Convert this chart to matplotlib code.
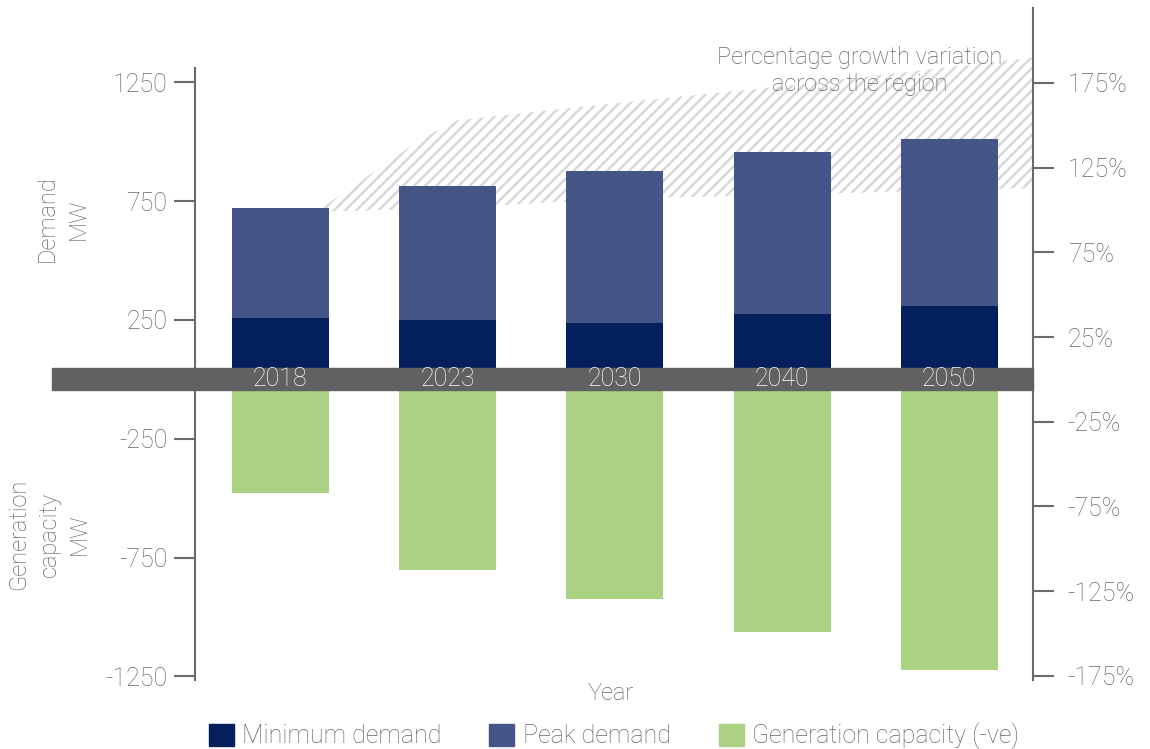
import numpy as np
import matplotlib
matplotlib.use("Agg")
import matplotlib.pyplot as plt
from matplotlib.patches import Patch

plt.rcParams['font.family'] = ['Roboto', 'DejaVu Sans']
plt.rcParams['font.weight'] = 'light'
plt.rcParams['hatch.linewidth'] = 1.8

# --- datos ---
years = ['2018', '2023', '2030', '2040', '2050']
min_demand = [258, 250, 237, 275, 309]
peak_demand = [720, 813, 876, 956, 1010]
gen_capacity = [-477, -800, -926, -1061, -1221]

# banda de variacion de crecimiento (%), en posiciones de categoria
band_x = [0.23, 0.86, 1.06, 2.0, 3.0, 4.5]
band_upper = [100, 143, 153, 163, 173, 190]
band_lower = [99, 100.5, 101.5, 106.5, 109, 113]

left_ticks = [1250, 750, 250, -250, -750, -1250]
right_ticks = [175, 125, 75, 25, -25, -75, -125, -175]

TXT = '#666666'
SPINE = '#6b6b6b'
C_MIN = '#03205c'
C_PEAK = '#465587'
C_GEN = '#aad282'
BAND = '#616163'
FS = 17
FT = 18

fig = plt.figure(figsize=(11.5, 7.49), dpi=100)
ax = fig.add_axes([195/1150, 69/749, 838/1150, 672/749])
ax2 = ax.twinx()

x = np.arange(len(years))
w = 0.58

ax.bar(x, peak_demand, width=w, color=C_PEAK, zorder=2)
ax.bar(x, min_demand, width=w, color=C_MIN, zorder=3)
ax.bar(x, gen_capacity, width=w, color=C_GEN, zorder=2)

ylo, yhi = -1265, 1563
mw_per_pct = 7.13
ax.set_ylim(ylo, yhi)
ax2.set_ylim(ylo / mw_per_pct, yhi / mw_per_pct)
ax.set_xlim(-0.51, 4.5)

ax2.fill_between(band_x, band_lower, band_upper, facecolor='none',
                 edgecolor='#d8d8d8', hatch='///', linewidth=0, zorder=1)

# ejes por encima de la banda
ax.set_zorder(ax2.get_zorder() + 1)
ax.patch.set_visible(False)

# franja gris en cero
ax.axhspan(-46, 46, xmin=(52 - 195) / 838, xmax=1.0, color=BAND,
           clip_on=False, zorder=5)
for xi, yr in zip(x, years):
    ax.text(xi, 0, yr, color='white', fontsize=FT, ha='center', va='center',
            zorder=6)

for s in ['top', 'right', 'bottom']:
    ax.spines[s].set_visible(False)
ax.spines['left'].set_color(SPINE)
ax.spines['left'].set_linewidth(1.5)
ax.spines['left'].set_bounds(ylo, 1311)
for s in ['top', 'left', 'bottom']:
    ax2.spines[s].set_visible(False)
ax2.spines['right'].set_color(SPINE)
ax2.spines['right'].set_linewidth(1.5)

ax.set_xticks([])
ax.set_yticks(left_ticks)
ax.set_yticklabels([str(t) for t in left_ticks])
ax.tick_params(axis='y', length=15, width=1.5, color=SPINE, labelcolor=TXT,
               labelsize=FT, pad=5)
ax2.set_yticks(right_ticks)
ax2.set_yticklabels([f'{t}%' for t in right_ticks])
ax2.tick_params(axis='y', length=15, width=1.5, color=SPINE, labelcolor=TXT,
                labelsize=FT, pad=10)

fig.text(63/1150, 1 - 219/749, 'Demand\nMW', rotation=90, ha='center',
         va='center', color=TXT, fontsize=FS, linespacing=1.45)
fig.text(49/1150, 1 - 534/749, 'Generation\ncapacity\nMW', rotation=90,
         ha='center', va='center', color=TXT, fontsize=FS, linespacing=1.4)
fig.text(611/1150, 1 - 694/749, 'Year', ha='center', va='center',
         color=TXT, fontsize=FS)
fig.text(860/1150, 1 - 71/749, 'Percentage growth variation\nacross the region',
         ha='center', va='center', color=TXT, fontsize=FS, linespacing=1.25)

handles = [Patch(color=C_MIN), Patch(color=C_PEAK), Patch(color=C_GEN)]
labels = ['Minimum demand', 'Peak demand', 'Generation capacity (-ve)']
leg = fig.legend(handles, labels, loc='center', ncol=3, frameon=False,
                 bbox_to_anchor=(614/1150, 1 - 736/749), fontsize=18,
                 handlelength=1.0, handleheight=1.0, handletextpad=0.35,
                 columnspacing=1.9, borderaxespad=0)
for t in leg.get_texts():
    t.set_color(TXT)

fig.savefig('out.png', dpi=100)
